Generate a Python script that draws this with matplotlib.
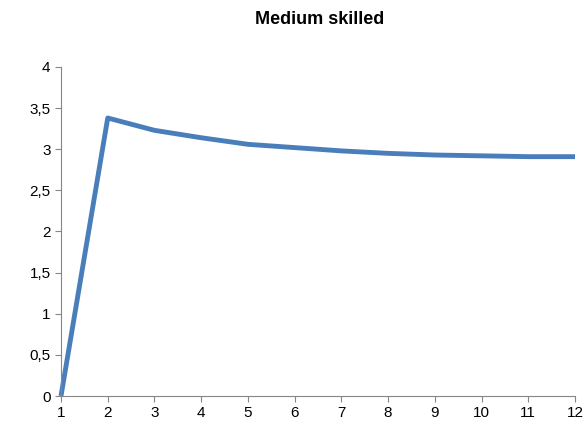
import matplotlib
matplotlib.use("Agg")
import matplotlib.pyplot as plt
from matplotlib.ticker import FuncFormatter

x = [1, 2, 3, 4, 5, 6, 7, 8, 9, 10, 11, 12]
y = [0, 3.38, 3.23, 3.14, 3.06, 3.02, 2.98, 2.95, 2.93, 2.92, 2.91, 2.91]

plt.rcParams['font.family'] = ['Liberation Sans', 'DejaVu Sans']
fig = plt.figure(figsize=(5.87, 4.36), dpi=100)
ax = fig.add_axes([61/587, 40/436, 514/587, 329/436])
ax.plot(x, y, color='#4a7ebb', lw=3.5, solid_capstyle='butt', clip_on=False)
ax.set_xlim(1, 12)
ax.set_ylim(0, 4)
ax.set_yticks([0, 0.5, 1, 1.5, 2, 2.5, 3, 3.5, 4])
ax.set_xticks(x)
ax.yaxis.set_major_formatter(FuncFormatter(lambda v, p: ('%g' % v).replace('.', ',')))
for s in ['top', 'right']:
    ax.spines[s].set_visible(False)
for s in ['left', 'bottom']:
    ax.spines[s].set_color('#868686')
ax.tick_params(colors='#868686', labelcolor='black', labelsize=11, length=4)
fig.text(320/587, 1 - 19/436, 'Medium skilled', ha='center', va='center',
         fontsize=13, fontweight='bold')
fig.savefig('out.png')
